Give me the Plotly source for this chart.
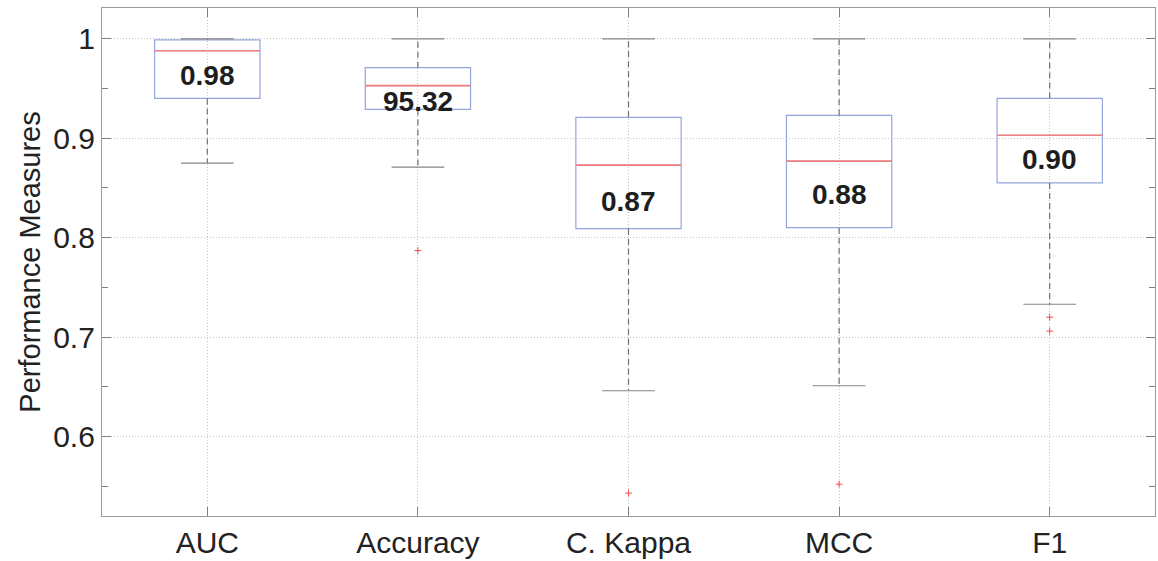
import plotly.graph_objects as go

categories = ["AUC", "Accuracy", "C. Kappa", "MCC", "F1"]
upper_whisker = [1.000, 1.000, 1.000, 1.000, 1.000]
q3_vals = [0.999, 0.971, 0.921, 0.923, 0.940]
median_vals = [0.988, 0.953, 0.873, 0.877, 0.903]
q1_vals = [0.940, 0.929, 0.809, 0.810, 0.855]
lower_whisker = [0.875, 0.871, 0.646, 0.651, 0.733]
outliers = [[], [0.787], [0.543], [0.552], [0.720, 0.706]]
label_text = ["0.98", "95.32", "0.87", "0.88", "0.90"]
label_y = [0.963, 0.937, 0.836, 0.843, 0.879]

xs = list(range(len(categories)))
BOX_W = 0.5
CAP_W = 0.25

fig = go.Figure()

# boxes (whiskers drawn separately)
fig.add_trace(go.Box(
    x=xs, q1=q1_vals, median=median_vals, q3=q3_vals,
    lowerfence=q1_vals, upperfence=q3_vals,
    width=BOX_W, whiskerwidth=0,
    line=dict(color="#94a5dd", width=1.2),
    fillcolor="rgba(0,0,0,0)", boxpoints=False,
    showlegend=False, hoverinfo="skip",
))

# dashed whiskers
wx, wy = [], []
for i in xs:
    wx += [i, i, None, i, i, None]
    wy += [q3_vals[i], upper_whisker[i], None, q1_vals[i], lower_whisker[i], None]
fig.add_trace(go.Scatter(x=wx, y=wy, mode="lines",
                         line=dict(color="#707070", width=1.2, dash="6px,4px"),
                         showlegend=False, hoverinfo="skip"))

# caps
cx, cy = [], []
for i in xs:
    for v in (upper_whisker[i], lower_whisker[i]):
        cx += [i - CAP_W / 2, i + CAP_W / 2, None]
        cy += [v, v, None]
fig.add_trace(go.Scatter(x=cx, y=cy, mode="lines",
                         line=dict(color="#858585", width=1.2),
                         showlegend=False, hoverinfo="skip"))

# medians in red
mx, my = [], []
for i in xs:
    mx += [i - BOX_W / 2, i + BOX_W / 2, None]
    my += [median_vals[i], median_vals[i], None]
fig.add_trace(go.Scatter(x=mx, y=my, mode="lines",
                         line=dict(color="#f28080", width=1.7),
                         showlegend=False, hoverinfo="skip"))

# outliers
ox, oy = [], []
for i in xs:
    for v in outliers[i]:
        ox.append(i)
        oy.append(v)
fig.add_trace(go.Scatter(x=ox, y=oy, mode="markers",
                         marker=dict(symbol="cross-thin", size=5,
                                     line=dict(color="#f05050", width=1)),
                         showlegend=False, hoverinfo="skip"))

for i in xs:
    fig.add_annotation(x=i, y=label_y[i], text="<b>%s</b>" % label_text[i],
                       showarrow=False,
                       font=dict(family="Liberation Sans, Arial, sans-serif",
                                 size=28, color="#1e1e1e"))

tick_font = dict(family="Liberation Sans, Arial, sans-serif", size=30, color="#222")
title_font = dict(family="Liberation Sans, Arial, sans-serif", size=29, color="#222")

fig.update_layout(
    width=1158, height=561,
    margin=dict(l=102, r=2, t=8, b=41),
    paper_bgcolor="white", plot_bgcolor="white",
    xaxis=dict(
        range=[-0.5, len(categories) - 0.5],
        tickmode="array", tickvals=xs, ticktext=categories,
        ticks="inside", ticklen=9, tickcolor="#808080", tickwidth=1,
        showline=True, linecolor="#9a9a9a", linewidth=1.2, mirror="ticks",
        showgrid=True, gridcolor="#c4c4c4", griddash="1px,2px", gridwidth=1,
        zeroline=False, tickfont=tick_font,
    ),
    yaxis=dict(
        range=[0.52, 1.031],
        tickmode="array", tickvals=[0.6, 0.7, 0.8, 0.9, 1.0],
        ticktext=["0.6", "0.7", "0.8", "0.9", "1"],
        ticks="inside", ticklen=9, tickcolor="#808080", tickwidth=1,
        minor=dict(dtick=0.05, tick0=0.5, ticks="inside", ticklen=6,
                   tickcolor="#808080", showgrid=False),
        showline=True, linecolor="#9a9a9a", linewidth=1.2, mirror="ticks",
        showgrid=True, gridcolor="#c4c4c4", griddash="1px,2px", gridwidth=1,
        zeroline=False, tickfont=tick_font,
        title=dict(text="Performance Measures", font=title_font, standoff=4),
    ),
)

fig.write_html("out.html")
